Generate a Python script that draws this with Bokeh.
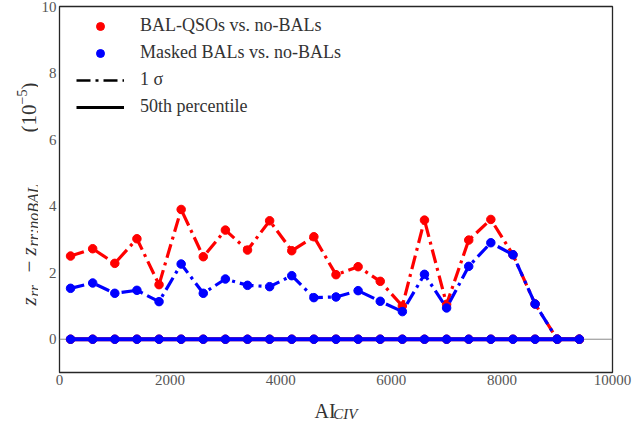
from math import pi
from bokeh.plotting import figure
from bokeh.layouts import row, column
from bokeh.models import Range1d, FixedTicker, Span, Label, Legend, LegendItem
from bokeh.embed import file_html
from bokeh.resources import INLINE

# ---- data ----
ai_civ = [200, 600, 1000, 1400, 1800, 2200, 2600, 3000, 3400, 3800, 4200, 4600,
          5000, 5400, 5800, 6200, 6600, 7000, 7400, 7800, 8200, 8600, 9000, 9400]
bal_sigma = [2.50, 2.72, 2.28, 3.02, 1.64, 3.90, 2.48, 3.28, 2.68, 3.56, 2.66, 3.08,
             1.94, 2.18, 1.74, 1.00, 3.58, 1.05, 2.98, 3.60, 2.54, 1.06, 0.00, 0.00]
masked_sigma = [1.53, 1.69, 1.38, 1.47, 1.13, 2.26, 1.38, 1.81, 1.62, 1.58, 1.91, 1.25,
                1.27, 1.46, 1.14, 0.83, 1.95, 0.94, 2.19, 2.90, 2.54, 1.06, 0.00, 0.00]
bal_median = [0.0, 0.0, 0.0, 0.0, 0.0, 0.0, 0.0, 0.0, 0.0, 0.0, 0.0, 0.0,
              0.0, 0.0, 0.0, 0.0, 0.0, 0.0, 0.0, 0.0, 0.0, 0.0, 0.0, 0.0]
masked_median = [0.0, 0.0, 0.0, 0.0, 0.0, 0.0, 0.0, 0.0, 0.0, 0.0, 0.0, 0.0,
                 0.0, 0.0, 0.0, 0.0, 0.0, 0.0, 0.0, 0.0, 0.0, 0.0, 0.0, 0.0]
x_ticks = [0, 2000, 4000, 6000, 8000, 10000]
y_ticks = [0, 2, 4, 6, 8, 10]
legend_labels = ["BAL-QSOs vs. no-BALs", "Masked BALs vs. no-BALs", "1 \u03c3", "50th percentile"]
NAN = float("nan")

FONT = "Liberation Serif"
TXT = "#333333"
W, H = 632, 421
YLW = 38                      # width of the strip holding the y-axis title
MW = W - YLW                  # main figure width
MH = 392                      # main figure height
XLH = H - MH                  # strip holding the x-axis title
L, R, T, B = 59 - YLW, 20, 6, MH - 372
FW, FH = MW - L - R, MH - T - B

p = figure(width=MW, height=MH, output_backend="svg", toolbar_location=None, title=None,
           x_range=Range1d(0, 10000), y_range=Range1d(-1, 10),
           min_border_left=L, min_border_right=R, min_border_top=T, min_border_bottom=B)
p.background_fill_color = "white"
p.border_fill_color = "white"
p.outline_line_color = "#262626"
p.outline_line_width = 1.3
p.xgrid.visible = False
p.ygrid.visible = False

for ax, ticks, standoff in ((p.xaxis[0], x_ticks, 2), (p.yaxis[0], y_ticks, 3)):
    ax.ticker = FixedTicker(ticks=ticks)
    ax.axis_label = None
    ax.axis_label_standoff = 0
    ax.axis_line_color = None
    ax.major_tick_line_color = None
    ax.minor_tick_line_color = None
    ax.major_tick_in = 0
    ax.major_tick_out = 0
    ax.minor_tick_in = 0
    ax.minor_tick_out = 0
    ax.major_label_standoff = standoff
    ax.major_label_text_font = FONT
    ax.major_label_text_font_size = "15px"
    ax.major_label_text_color = "#555555"

p.add_layout(Span(location=0, dimension="width", line_color="#8a8a8a",
                  line_width=1, level="underlay"))

DASH = "14 5 3 5"
p.line(ai_civ, bal_sigma, line_color="red", line_width=3.2, line_dash=DASH)
p.scatter(ai_civ, bal_sigma, size=8.5, color="red")
p.line(ai_civ, masked_sigma, line_color="blue", line_width=3.2, line_dash=DASH)
p.scatter(ai_civ, masked_sigma, size=8.5, color="blue")
p.line(ai_civ, bal_median, line_color="red", line_width=4)
p.scatter(ai_civ, bal_median, size=8.5, color="red")
p.line(ai_civ, masked_median, line_color="blue", line_width=4)
p.scatter(ai_civ, masked_median, size=8.5, color="blue")

# legend proxies (NaN data: nothing drawn in the frame)
r1 = p.scatter(x=[NAN], y=[NAN], size=5, color="red")
r2 = p.scatter(x=[NAN], y=[NAN], size=5, color="blue")
r3 = p.line(x=[NAN, NAN], y=[NAN, NAN], line_color="black", line_width=2.7, line_dash=DASH)
r4 = p.line(x=[NAN, NAN], y=[NAN, NAN], line_color="black", line_width=3.2)
legend = Legend(items=[LegendItem(label=legend_labels[0], renderers=[r1]),
                       LegendItem(label=legend_labels[1], renderers=[r2]),
                       LegendItem(label=legend_labels[2], renderers=[r3]),
                       LegendItem(label=legend_labels[3], renderers=[r4])],
                location=(17, FH - 13 - 98), padding=0, margin=0, spacing=6,
                glyph_width=48, glyph_height=20, label_height=20, label_standoff=16,
                label_text_font=FONT, label_text_font_size="18px",
                label_text_color=TXT, border_line_color=None,
                background_fill_alpha=0)
p.add_layout(legend)


def strip(w, h):
    f = figure(width=w, height=h,
               output_backend="svg", toolbar_location=None, title=None,
               x_range=Range1d(0, w), y_range=Range1d(0, h),
               x_axis_type=None, y_axis_type=None,
               min_border=0, min_border_left=0, min_border_right=0,
               min_border_top=0, min_border_bottom=0)
    f.outline_line_color = None
    f.xgrid.visible = False
    f.ygrid.visible = False
    f.background_fill_color = "white"
    f.border_fill_color = "white"
    return f


def piece(f, ox, oy, txt, px, py, size, italic=False, angle=0.0, align="left"):
    # px, py: pixel position on the whole page (from its top-left corner);
    # ox, oy: top-left corner of the strip on the page
    h = f.height
    f.add_layout(Label(x=px - ox, y=h - (py - oy), text=txt, angle=angle,
                       text_font=FONT, text_font_size=f"{size}px",
                       text_font_style="italic" if italic else "normal",
                       text_baseline="alphabetic", text_align=align,
                       text_color=TXT))


# y-axis title:  z_rr - z_rr;noBAL (10^-5)
yl = strip(YLW, H)
V = pi / 2
piece(yl, 0, 0, "z", 28.5, 305, 21, True, V)
piece(yl, 0, 0, "rr", 33, 296, 15, True, V)
piece(yl, 0, 0, "\u2212", 28.5, 266, 21, False, V, "center")
piece(yl, 0, 0, "z", 28.5, 255, 21, True, V)
piece(yl, 0, 0, "rr;noBAL", 33, 246, 16, True, V)
piece(yl, 0, 0, "(10", 28.5, 132, 21, False, V)
piece(yl, 0, 0, "\u22125", 21, 104, 14, False, V)
piece(yl, 0, 0, ")", 28.5, 89, 21, False, V)

# x-axis title: AI_CIV
xl = strip(MW, XLH)
piece(xl, YLW, MH, "AI", 312, 410, 20)
piece(xl, YLW, MH, "CIV", 332, 413, 15, True)

layout = row(yl, column(p, xl, spacing=0), spacing=0)
open("out.html", "w").write(file_html(layout, INLINE))
